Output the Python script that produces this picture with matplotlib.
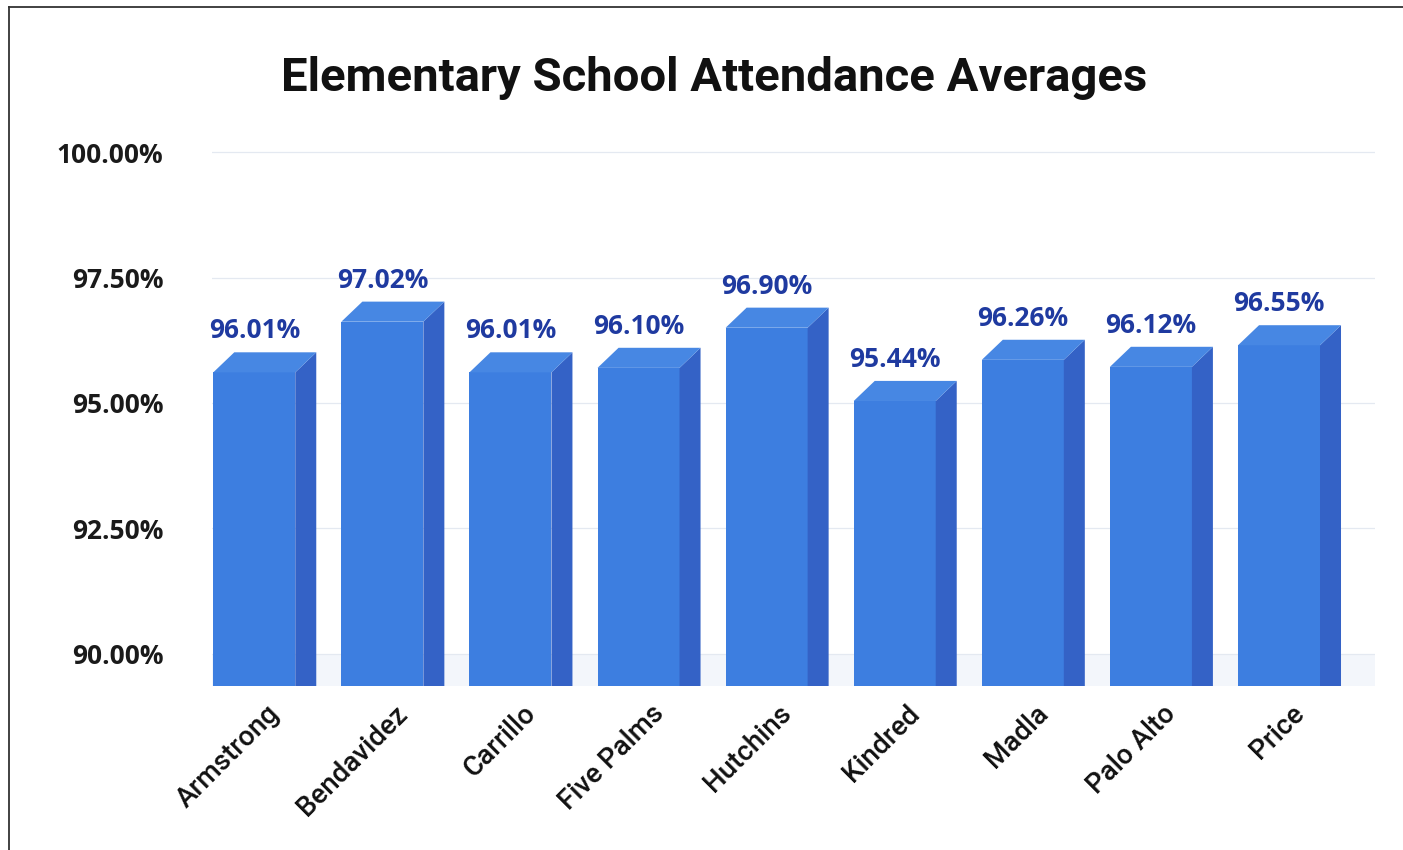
import matplotlib
matplotlib.use('Agg')
import matplotlib.pyplot as plt
from matplotlib.patches import Polygon, Rectangle
from matplotlib.lines import Line2D
from matplotlib.ticker import FuncFormatter

schools = ['Armstrong', 'Bendavidez', 'Carrillo', 'Five Palms', 'Hutchins',
           'Kindred', 'Madla', 'Palo Alto', 'Price']
attendance = [96.01, 97.02, 96.01, 96.10, 96.90, 95.44, 96.26, 96.12, 96.55]
yticks = [90.0, 92.5, 95.0, 97.5, 100.0]

front_c = '#3d7ee0'
top_c = '#4787e3'
side_c = '#3462c6'
label_c = '#1f3aa0'

fig = plt.figure(figsize=(14.03, 8.5), dpi=100)
ax = fig.add_axes([0.1511, 0.1929, 0.829, 0.64])

ymin, ymax = 89.36, 100.2
ax.set_xlim(-0.5, 8.58)
ax.set_ylim(ymin, ymax)

# bar geometry (data units)
w = 0.64    # front face width
dx = 0.164  # depth in x
dy = 0.40   # depth in y

ax.axhspan(ymin, 90, color='#f3f6fb', zorder=0, lw=0)

for i, v in enumerate(attendance):
    x0 = i - 0.49
    ft = v - dy
    ax.add_patch(Rectangle((x0, ymin), w, ft - ymin, facecolor=front_c,
                           edgecolor='none', zorder=3))
    ax.add_patch(Polygon([(x0 + w, ymin), (x0 + w, ft), (x0 + w + dx, v),
                          (x0 + w + dx, ymin)], closed=True,
                         facecolor=side_c, edgecolor='none', zorder=3))
    ax.add_patch(Polygon([(x0, ft), (x0 + dx, v), (x0 + w + dx, v), (x0 + w, ft)],
                         closed=True, facecolor=top_c, edgecolor='none', zorder=3))
    ax.text(x0 + w / 2, v + 0.43, '%.2f%%' % v, ha='center', va='center',
            fontsize=19, fontweight='bold', color=label_c, family='Open Sans',
            zorder=4)

ax.set_yticks(yticks)
ax.yaxis.set_major_formatter(FuncFormatter(lambda y, p: '%.2f%%' % y))
ax.grid(axis='y', color='#e4e9f1', lw=0.9, zorder=1)
ax.set_axisbelow(True)
for s in ax.spines.values():
    s.set_visible(False)
ax.tick_params(axis='y', length=0, pad=35, labelsize=19, labelcolor='#1a1a1a')
for t in ax.get_yticklabels():
    t.set_family('Open Sans')
    t.set_fontweight('bold')

ax.set_xticks([i - 0.08 for i in range(len(schools))])
ax.set_xticklabels(schools, rotation=45, ha='right', rotation_mode='anchor',
                   fontsize=20, family='Roboto', fontweight='medium',
                   color='#111111')
ax.tick_params(axis='x', length=0, pad=10)

fig.text(0.509, 0.908, 'Elementary School Attendance Averages', ha='center',
         va='center', fontsize=34, fontweight='bold', family='Roboto',
         color='#111111')

# frame border (left and top)
fig.add_artist(Line2D([9 / 1403, 9 / 1403], [0, 1 - 7 / 850], color='#333333', lw=1.3))
fig.add_artist(Line2D([9 / 1403, 1], [1 - 7 / 850, 1 - 7 / 850], color='#333333', lw=1.3))

fig.savefig('out.png', dpi=100)
